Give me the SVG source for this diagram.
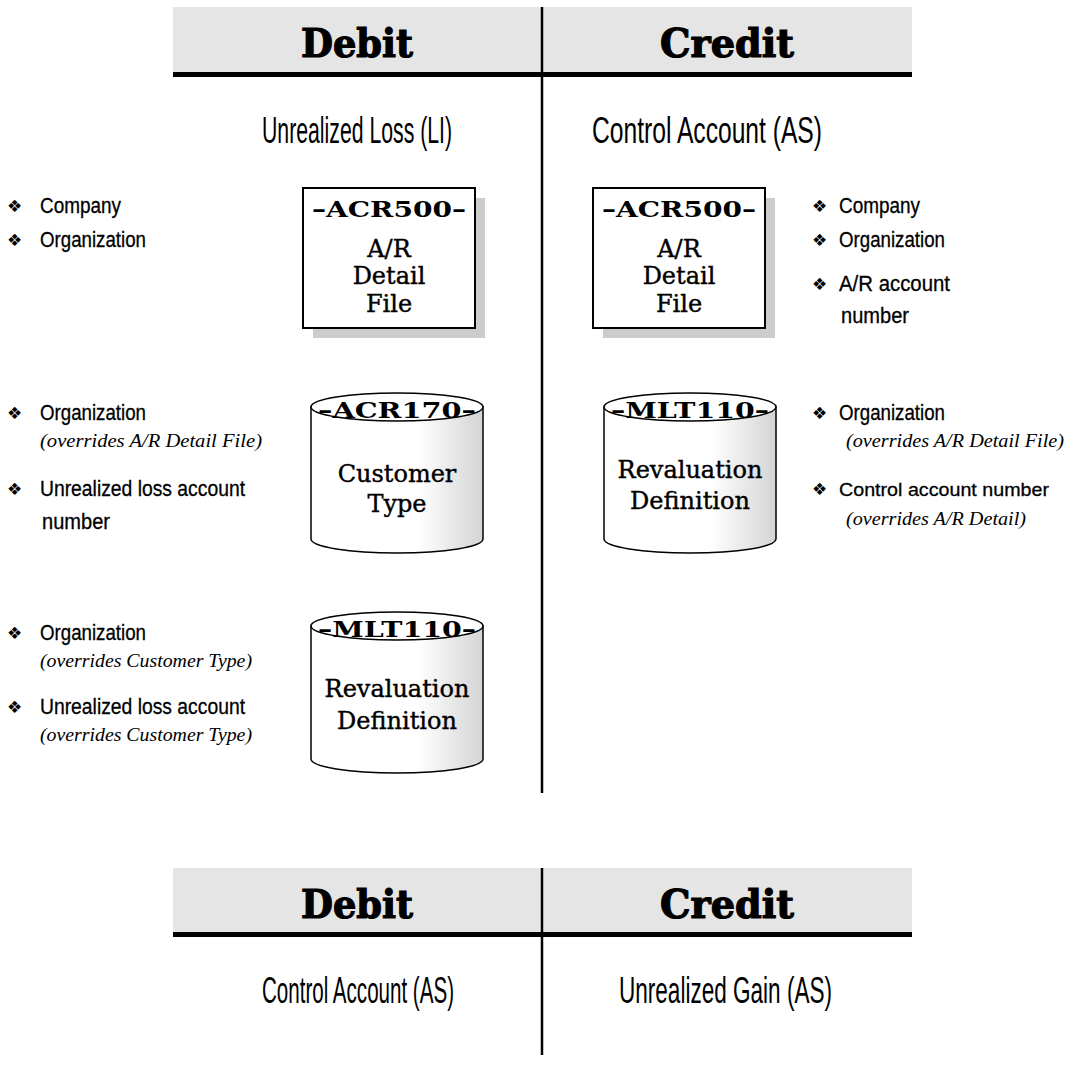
<svg xmlns="http://www.w3.org/2000/svg" width="1070" height="1084" viewBox="0 0 1070 1084">
<style>
.band{fill:#e5e5e5}
.hd{font-family:"DejaVu Serif",serif;font-weight:bold;font-size:39px;text-anchor:middle;fill:#000;stroke:#000;stroke-width:1.2}
.ttl{font-family:"Liberation Sans",sans-serif;font-size:37px;fill:#000}
.bl{font-family:"Liberation Sans",sans-serif;font-size:22px;fill:#000;stroke:#000;stroke-width:0.3}
.bls{font-size:19px}
.dm{font-family:"DejaVu Sans",sans-serif;font-size:17px;fill:#000}
.it{font-family:"Liberation Serif",serif;font-style:italic;font-size:19px;fill:#000}
.nl{font-family:"DejaVu Serif",serif;font-weight:bold;font-size:23px;text-anchor:middle;fill:#000}
.nt{font-family:"DejaVu Serif",serif;font-size:24px;text-anchor:middle;fill:#000;stroke:#000;stroke-width:0.4}
.box{fill:#fff;stroke:#000;stroke-width:2}
.shadow{fill:#cccccc}
.cyl{fill:url(#cg);stroke:#000;stroke-width:1.5}
.cyltop{fill:#fff;stroke:#000;stroke-width:1.5}
.vl{stroke:#000;stroke-width:2.5}
</style>
<defs>
<linearGradient id="cg" x1="0" y1="0" x2="1" y2="0">
<stop offset="0" stop-color="#ffffff"/>
<stop offset="0.62" stop-color="#ffffff"/>
<stop offset="1" stop-color="#d4d4d4"/>
</linearGradient>
</defs>

<g id="taccount-top">
<rect class="band" x="173" y="7" width="739" height="65"/>
<rect x="173" y="72" width="739" height="5" fill="#000"/>
<text class="hd" x="357" y="57" textLength="112" lengthAdjust="spacingAndGlyphs">Debit</text>
<text class="hd" x="727" y="57" textLength="134" lengthAdjust="spacingAndGlyphs">Credit</text>
<text class="ttl" x="262" y="143" textLength="190" lengthAdjust="spacingAndGlyphs">Unrealized Loss (LI)</text>
<text class="ttl" x="592" y="143" textLength="230" lengthAdjust="spacingAndGlyphs">Control Account (AS)</text>
</g>

<g id="taccount-bottom">
<rect class="band" x="173" y="868" width="739" height="64"/>
<rect x="173" y="932" width="739" height="5" fill="#000"/>
<text class="hd" x="357" y="918" textLength="112" lengthAdjust="spacingAndGlyphs">Debit</text>
<text class="hd" x="727" y="918" textLength="134" lengthAdjust="spacingAndGlyphs">Credit</text>
<text class="ttl" x="262" y="1003" textLength="192" lengthAdjust="spacingAndGlyphs">Control Account (AS)</text>
<text class="ttl" x="619" y="1003" textLength="213" lengthAdjust="spacingAndGlyphs">Unrealized Gain (AS)</text>
</g>

<g id="connectors">
<line class="vl" x1="542" y1="7" x2="542" y2="793"/>
<line class="vl" x1="542" y1="868" x2="542" y2="1055"/>
</g>

<g id="left-acr500">
<rect class="shadow" x="313" y="198" width="172" height="140"/>
<rect class="box" x="303" y="188" width="172" height="140"/>
<text class="nl" x="389" y="217" textLength="154" lengthAdjust="spacingAndGlyphs">–ACR500–</text>
<text class="nt" x="389" y="257">A/R</text>
<text class="nt" x="389" y="284">Detail</text>
<text class="nt" x="389" y="312">File</text>
</g>

<g id="right-acr500">
<rect class="shadow" x="603" y="198" width="172" height="140"/>
<rect class="box" x="593" y="188" width="172" height="140"/>
<text class="nl" x="679" y="217" textLength="154" lengthAdjust="spacingAndGlyphs">–ACR500–</text>
<text class="nt" x="679" y="257">A/R</text>
<text class="nt" x="679" y="284">Detail</text>
<text class="nt" x="679" y="312">File</text>
</g>

<g id="left-acr170">
<path class="cyl" d="M311,407 L311,539 A86,14 0 0 0 483,539 L483,407 Z"/>
<ellipse class="cyltop" cx="397" cy="407" rx="86" ry="14"/>
<text class="nl" x="397" y="418" textLength="158" lengthAdjust="spacingAndGlyphs">–ACR170–</text>
<text class="nt" x="397" y="482">Customer</text>
<text class="nt" x="397" y="512">Type</text>
</g>

<g id="right-mlt110">
<path class="cyl" d="M604,407 L604,539 A86,14 0 0 0 776,539 L776,407 Z"/>
<ellipse class="cyltop" cx="690" cy="407" rx="86" ry="14"/>
<text class="nl" x="690" y="418" textLength="158" lengthAdjust="spacingAndGlyphs">–MLT110–</text>
<text class="nt" x="690" y="478">Revaluation</text>
<text class="nt" x="690" y="509">Definition</text>
</g>

<g id="left-mlt110">
<path class="cyl" d="M311,626 L311,759 A86,14 0 0 0 483,759 L483,626 Z"/>
<ellipse class="cyltop" cx="397" cy="626" rx="86" ry="14"/>
<text class="nl" x="397" y="637" textLength="158" lengthAdjust="spacingAndGlyphs">–MLT110–</text>
<text class="nt" x="397" y="697">Revaluation</text>
<text class="nt" x="397" y="729">Definition</text>
</g>

<g id="left-notes-1">
<text class="dm" x="7" y="212">❖</text>
<text class="bl" x="40" y="213" textLength="81" lengthAdjust="spacingAndGlyphs">Company</text>
<text class="dm" x="7" y="246">❖</text>
<text class="bl" x="40" y="247" textLength="106" lengthAdjust="spacingAndGlyphs">Organization</text>
</g>

<g id="right-notes-1">
<text class="dm" x="812" y="212">❖</text>
<text class="bl" x="839" y="213" textLength="81" lengthAdjust="spacingAndGlyphs">Company</text>
<text class="dm" x="812" y="246">❖</text>
<text class="bl" x="839" y="247" textLength="106" lengthAdjust="spacingAndGlyphs">Organization</text>
<text class="dm" x="812" y="290">❖</text>
<text class="bl" x="839" y="291" textLength="111" lengthAdjust="spacingAndGlyphs">A/R account</text>
<text class="bl" x="841" y="323" textLength="68" lengthAdjust="spacingAndGlyphs">number</text>
</g>

<g id="left-notes-2">
<text class="dm" x="7" y="419">❖</text>
<text class="bl" x="40" y="420" textLength="106" lengthAdjust="spacingAndGlyphs">Organization</text>
<text class="it" x="40" y="447" textLength="222" lengthAdjust="spacingAndGlyphs">(overrides A/R Detail File)</text>
<text class="dm" x="7" y="495">❖</text>
<text class="bl" x="40" y="496" textLength="205" lengthAdjust="spacingAndGlyphs">Unrealized loss account</text>
<text class="bl" x="42" y="529" textLength="68" lengthAdjust="spacingAndGlyphs">number</text>
</g>

<g id="right-notes-2">
<text class="dm" x="812" y="419">❖</text>
<text class="bl" x="839" y="420" textLength="106" lengthAdjust="spacingAndGlyphs">Organization</text>
<text class="it" x="846" y="447" textLength="218" lengthAdjust="spacingAndGlyphs">(overrides A/R Detail File)</text>
<text class="dm" x="812" y="495">❖</text>
<text class="bl bls" x="839" y="496" textLength="210" lengthAdjust="spacingAndGlyphs">Control account number</text>
<text class="it" x="846" y="525" textLength="180" lengthAdjust="spacingAndGlyphs">(overrides A/R Detail)</text>
</g>

<g id="left-notes-3">
<text class="dm" x="7" y="639">❖</text>
<text class="bl" x="40" y="640" textLength="106" lengthAdjust="spacingAndGlyphs">Organization</text>
<text class="it" x="40" y="667" textLength="212" lengthAdjust="spacingAndGlyphs">(overrides Customer Type)</text>
<text class="dm" x="7" y="713">❖</text>
<text class="bl" x="40" y="714" textLength="205" lengthAdjust="spacingAndGlyphs">Unrealized loss account</text>
<text class="it" x="40" y="741" textLength="212" lengthAdjust="spacingAndGlyphs">(overrides Customer Type)</text>
</g>
</svg>
